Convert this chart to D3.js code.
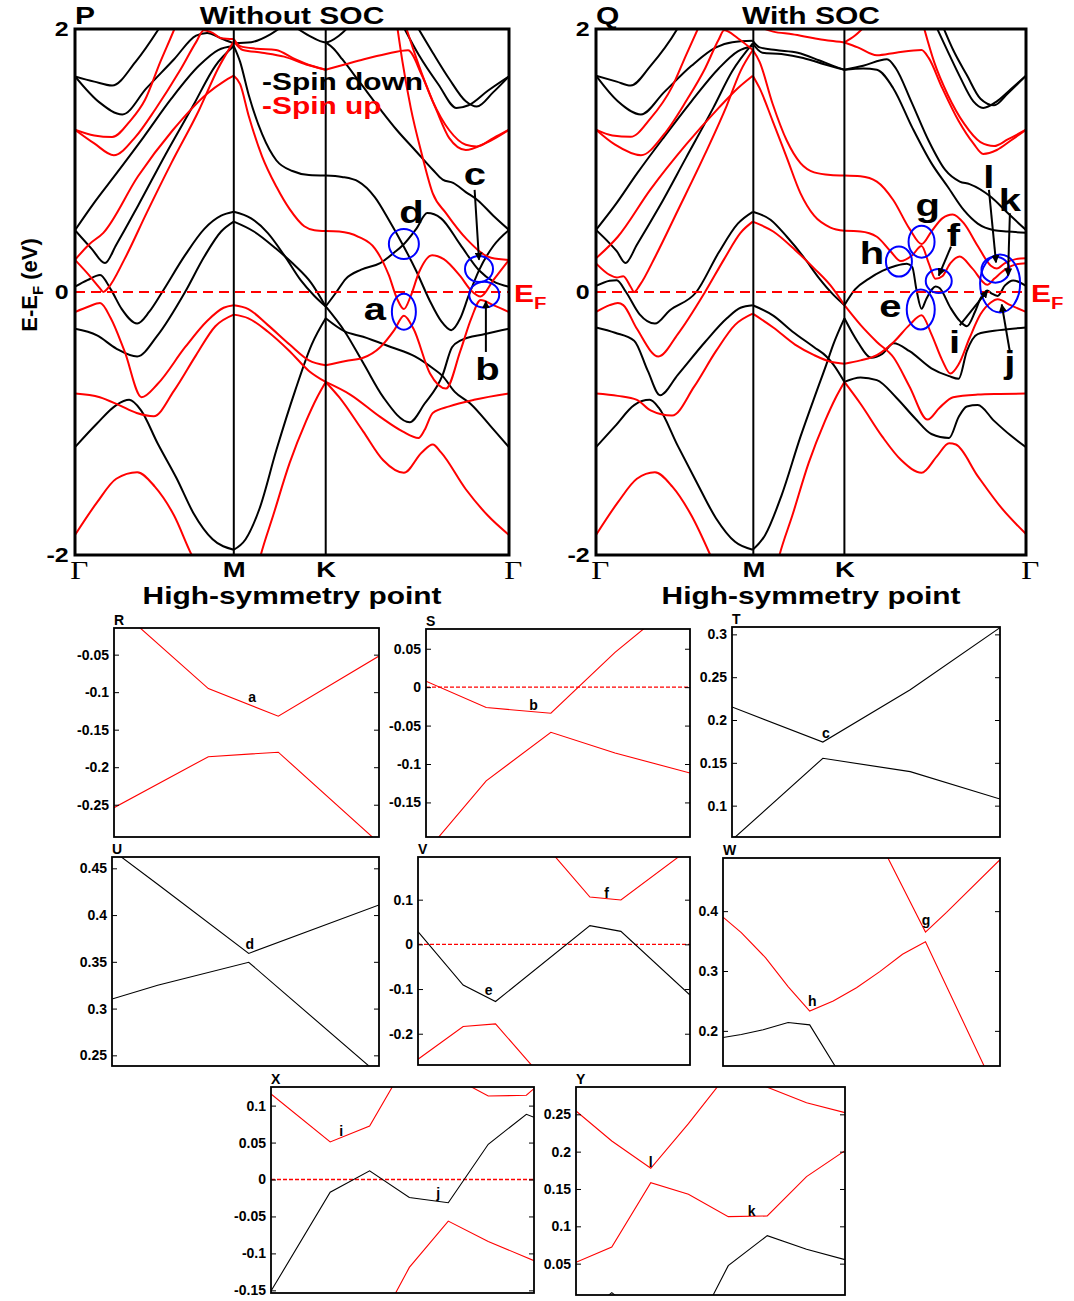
<!DOCTYPE html>
<html>
<head>
<meta charset="utf-8">
<script src="https://cdn.jsdelivr.net/npm/d3@7"></script>
<style>
  body { margin: 0; background: #fff; }
  svg { display: block; }
  text { font-family: "Liberation Sans", Arial, sans-serif; font-weight: bold; }
</style>
</head>
<body>
<svg id="fig" width="1074" height="1301"></svg>
<script>
// ---------- k-path and axis labels ----------
const kPath = [0, 0.577, 0.911, 1.577];
const kLabels = ["\u0393", "M", "K", "\u0393"];
const energyTicks = [-2, 0, 2];

// ---------- band structure without SOC: [k, E-EF] ----------
const noSocSpinDown = [
  [[0,1.64],[0.07,1.60],[0.135,1.57],[0.22,1.75],[0.304,2.0],[0.34,2.12]],
  [[0,1.64],[0.09,1.44],[0.172,1.35],[0.26,1.55],[0.36,1.77],[0.44,1.95],[0.48,1.97],[0.53,1.93],[0.577,1.89]],
  [[0,0.47],[0.06,0.33],[0.109,0.22],[0.15,0.36],[0.23,0.66],[0.33,1.05],[0.43,1.42],[0.51,1.72],[0.577,1.87]],
  [[0,0.47],[0.07,0.68],[0.15,0.90],[0.25,1.18],[0.35,1.47],[0.45,1.72],[0.52,1.84],[0.577,1.87]],
  [[0,0.04],[0.045,0.09],[0.091,0.13],[0.13,0.02],[0.17,-0.13],[0.226,-0.24],[0.27,-0.15],[0.317,0.0],[0.40,0.28],[0.47,0.48],[0.531,0.58],[0.577,0.61]],
  [[0,-0.28],[0.08,-0.33],[0.15,-0.43],[0.226,-0.49],[0.30,-0.33],[0.40,0.0],[0.47,0.27],[0.531,0.46],[0.577,0.535]],
  [[0,-1.18],[0.08,-1.0],[0.15,-0.86],[0.197,-0.82],[0.24,-0.90],[0.30,-1.15],[0.37,-1.42],[0.43,-1.68],[0.50,-1.88],[0.577,-1.96]],
  [[0.577,1.87],[0.60,1.75],[0.631,1.50],[0.68,1.20],[0.732,1.00],[0.79,0.92],[0.85,0.89],[0.911,0.886]],
  [[0.577,1.893],[0.64,1.90],[0.71,1.96],[0.76,2.03]],
  [[0.79,2.03],[0.85,1.95],[0.911,1.898],[0.96,1.95],[1.0,2.03]],
  [[0.577,0.61],[0.64,0.56],[0.70,0.45],[0.76,0.28],[0.82,0.09],[0.87,-0.03],[0.911,-0.11]],
  [[0.577,0.535],[0.65,0.46],[0.73,0.33],[0.80,0.20],[0.858,0.07],[0.911,-0.11]],
  [[0.577,-1.96],[0.62,-1.88],[0.67,-1.65],[0.732,-1.20],[0.80,-0.75],[0.86,-0.40],[0.911,-0.20]],
  [[0.911,1.898],[0.94,1.85],[0.971,1.77],[1.04,1.58],[1.109,1.39],[1.17,1.23],[1.235,1.08],[1.30,0.93],[1.336,0.855],[1.374,0.83],[1.42,0.76],[1.462,0.70],[1.52,0.58],[1.577,0.472]],
  [[1.19,2.03],[1.25,1.80],[1.32,1.58],[1.386,1.40],[1.43,1.42],[1.50,1.53],[1.577,1.64]],
  [[1.24,2.03],[1.30,1.82],[1.36,1.62],[1.42,1.45],[1.46,1.41],[1.52,1.52],[1.577,1.64]],
  [[0.911,0.886],[0.97,0.875],[1.03,0.84],[1.09,0.72],[1.14,0.55],[1.191,0.36],[1.24,0.16],[1.29,-0.07],[1.33,-0.22],[1.367,-0.29],[1.40,-0.20],[1.43,-0.03],[1.468,0.165],[1.52,0.35],[1.577,0.472]],
  [[0.911,-0.11],[0.95,0.0],[0.984,0.10],[1.04,0.17],[1.109,0.22],[1.16,0.30],[1.191,0.355],[1.24,0.48],[1.28,0.60],[1.33,0.56],[1.40,0.36],[1.468,0.165],[1.52,0.08],[1.577,0.04]],
  [[0.911,-0.11],[0.98,-0.30],[1.05,-0.55],[1.12,-0.80],[1.216,-0.99],[1.27,-0.85],[1.336,-0.63],[1.37,-0.42],[1.40,-0.37],[1.49,-0.32],[1.577,-0.28]],
  [[0.911,-0.20],[0.98,-0.30],[1.047,-0.34],[1.15,-0.42],[1.235,-0.49],[1.30,-0.58],[1.336,-0.64],[1.38,-0.76],[1.437,-0.85],[1.51,-1.02],[1.577,-1.18]]
];

const noSocSpinUp = [
  [[0,1.234],[0.07,1.19],[0.135,1.178],[0.20,1.30],[0.254,1.46],[0.31,1.75],[0.361,2.0],[0.38,2.1]],
  [[0,1.234],[0.07,1.13],[0.141,1.04],[0.22,1.18],[0.292,1.39],[0.38,1.68],[0.44,1.90],[0.468,1.99],[0.50,1.97],[0.531,1.93],[0.577,1.924]],
  [[0,0.244],[0.05,0.36],[0.103,0.45],[0.229,0.88],[0.355,1.23],[0.481,1.51],[0.54,1.60],[0.577,1.645]],
  [[0,0.244],[0.05,0.13],[0.09,0.03],[0.103,0.0],[0.12,0.03],[0.18,0.25],[0.26,0.60],[0.35,0.98],[0.45,1.38],[0.52,1.70],[0.577,1.906]],
  [[0,-0.152],[0.05,-0.11],[0.091,-0.084],[0.13,-0.20],[0.18,-0.45],[0.242,-0.80],[0.30,-0.70],[0.40,-0.42],[0.48,-0.22],[0.54,-0.12],[0.577,-0.101]],
  [[0,-0.772],[0.09,-0.80],[0.16,-0.86],[0.224,-0.92],[0.286,-0.944],[0.36,-0.75],[0.44,-0.48],[0.51,-0.26],[0.577,-0.172]],
  [[0,-1.848],[0.08,-1.60],[0.15,-1.42],[0.226,-1.37],[0.29,-1.48],[0.36,-1.70],[0.424,-2.0],[0.45,-2.1]],
  [[0.577,1.924],[0.60,1.87],[0.66,1.85],[0.73,1.84],[0.80,1.77],[0.86,1.72],[0.911,1.69]],
  [[0.577,1.906],[0.61,1.84],[0.68,1.82],[0.76,1.79],[0.84,1.73],[0.911,1.69]],
  [[0.577,1.645],[0.60,1.58],[0.631,1.34],[0.68,1.03],[0.732,0.80],[0.78,0.63],[0.833,0.50],[0.87,0.47],[0.911,0.464]],
  [[0.577,-0.101],[0.63,-0.13],[0.70,-0.25],[0.78,-0.40],[0.85,-0.52],[0.911,-0.557]],
  [[0.577,-0.172],[0.63,-0.20],[0.70,-0.30],[0.78,-0.45],[0.85,-0.60],[0.911,-0.684]],
  [[0.665,-2.08],[0.675,-2.0],[0.72,-1.70],[0.78,-1.30],[0.84,-0.98],[0.88,-0.80],[0.911,-0.684]],
  [[0.911,1.69],[0.98,1.73],[1.05,1.77],[1.13,1.81],[1.21,1.838],[1.26,1.65],[1.31,1.40],[1.36,1.17],[1.42,1.08],[1.49,1.13],[1.577,1.234]],
  [[1.20,2.03],[1.25,1.72],[1.30,1.45],[1.36,1.23],[1.42,1.12],[1.46,1.107],[1.52,1.17],[1.577,1.234]],
  [[0.911,0.464],[0.96,0.46],[1.03,0.42],[1.09,0.33],[1.14,0.13],[1.17,-0.05],[1.195,-0.13],[1.22,-0.03],[1.25,0.15],[1.298,0.28],[1.34,0.25],[1.40,0.12],[1.44,0.01],[1.474,-0.034],[1.52,0.09],[1.577,0.244]],
  [[1.17,2.03],[1.19,1.75],[1.22,1.40],[1.26,1.05],[1.30,0.75],[1.348,0.60],[1.424,0.40],[1.512,0.26],[1.577,0.244]],
  [[0.911,-0.557],[0.984,-0.524],[1.047,-0.50],[1.109,-0.42],[1.16,-0.29],[1.195,-0.18],[1.23,-0.28],[1.29,-0.62],[1.348,-0.734],[1.40,-0.45],[1.44,-0.20],[1.474,-0.06],[1.52,-0.10],[1.577,-0.152]],
  [[0.911,-0.684],[1.0,-0.78],[1.109,-0.95],[1.19,-1.06],[1.248,-1.11],[1.27,-1.05],[1.30,-0.92],[1.36,-0.87],[1.45,-0.82],[1.577,-0.772]],
  [[0.911,-0.684],[0.96,-0.80],[1.047,-1.06],[1.12,-1.28],[1.195,-1.375],[1.26,-1.22],[1.30,-1.16],[1.33,-1.22],[1.42,-1.50],[1.50,-1.70],[1.577,-1.848]]
];

// ---------- band structure with SOC ----------
const socBlack = [
  [[0,1.645],[0.076,1.60],[0.127,1.57],[0.20,1.72],[0.298,2.0],[0.32,2.08]],
  [[0,1.645],[0.08,1.45],[0.165,1.35],[0.25,1.52],[0.35,1.72],[0.44,1.86],[0.50,1.90],[0.575,1.91]],
  [[0,0.472],[0.07,0.66],[0.15,0.90],[0.25,1.18],[0.35,1.45],[0.45,1.70],[0.52,1.83],[0.575,1.87]],
  [[0,0.472],[0.05,0.37],[0.076,0.31],[0.108,0.22],[0.15,0.36],[0.23,0.64],[0.33,1.02],[0.43,1.40],[0.50,1.68],[0.575,1.89]],
  [[0,0.046],[0.05,0.085],[0.076,0.09],[0.11,0.0],[0.16,-0.17],[0.216,-0.24],[0.27,-0.14],[0.368,0.0],[0.45,0.30],[0.52,0.52],[0.575,0.61]],
  [[0,-0.27],[0.07,-0.31],[0.14,-0.37],[0.19,-0.60],[0.235,-0.785],[0.30,-0.63],[0.40,-0.38],[0.48,-0.20],[0.53,-0.12],[0.575,-0.101]],
  [[0,-1.18],[0.07,-1.02],[0.14,-0.86],[0.197,-0.82],[0.23,-0.88],[0.30,-1.17],[0.37,-1.45],[0.44,-1.72],[0.51,-1.90],[0.575,-1.96]],
  [[0.575,1.91],[0.60,1.86],[0.66,1.84],[0.74,1.82],[0.82,1.76],[0.87,1.72],[0.911,1.69]],
  [[0.575,1.89],[0.61,1.82],[0.68,1.81],[0.76,1.78],[0.84,1.73],[0.911,1.69]],
  [[0.575,0.61],[0.64,0.55],[0.70,0.42],[0.76,0.27],[0.82,0.10],[0.87,-0.02],[0.911,-0.10]],
  [[0.575,-0.101],[0.65,-0.18],[0.72,-0.30],[0.80,-0.42],[0.845,-0.49],[0.87,-0.55],[0.911,-0.684]],
  [[0.575,-1.96],[0.62,-1.85],[0.68,-1.55],[0.75,-1.10],[0.81,-0.75],[0.845,-0.55],[0.87,-0.40],[0.911,-0.20]],
  [[0.911,1.69],[0.98,1.72],[1.067,1.77],[1.10,1.70],[1.156,1.45],[1.22,1.15],[1.28,0.93],[1.334,0.84],[1.37,0.82],[1.45,0.72],[1.51,0.60],[1.577,0.472]],
  [[0.911,1.69],[0.98,1.70],[1.03,1.69],[1.09,1.55],[1.16,1.25],[1.23,0.98],[1.29,0.80],[1.35,0.62],[1.40,0.52],[1.46,0.47],[1.51,0.46],[1.577,0.45]],
  [[1.245,2.03],[1.29,1.83],[1.334,1.64],[1.384,1.45],[1.42,1.40],[1.47,1.45],[1.52,1.54],[1.577,1.645]],
  [[1.27,2.03],[1.31,1.84],[1.36,1.65],[1.41,1.47],[1.46,1.42],[1.51,1.51],[1.577,1.645]],
  [[0.911,-0.10],[0.95,0.02],[1.00,0.10],[1.05,0.16],[1.10,0.20],[1.14,0.215],[1.16,0.19],[1.175,0.02],[1.194,-0.128],[1.21,-0.06],[1.232,0.02],[1.245,0.042],[1.26,0.03],[1.30,-0.12],[1.334,-0.22],[1.36,-0.26],[1.39,-0.15],[1.41,-0.05],[1.435,0.012],[1.45,-0.01],[1.473,-0.03],[1.50,0.05],[1.53,0.088],[1.577,0.046]],
  [[0.911,-0.20],[0.96,-0.38],[1.01,-0.50],[1.05,-0.47],[1.092,-0.39],[1.15,-0.45],[1.23,-0.58],[1.295,-0.64],[1.33,-0.66],[1.36,-0.45],[1.40,-0.32],[1.48,-0.29],[1.577,-0.27]],
  [[0.911,-0.684],[0.97,-0.65],[1.03,-0.67],[1.10,-0.80],[1.17,-0.96],[1.23,-1.08],[1.295,-1.11],[1.33,-0.95],[1.36,-0.87],[1.40,-0.86],[1.46,-0.98],[1.52,-1.09],[1.577,-1.18]]
];

const socRed = [
  [[0,1.234],[0.06,1.19],[0.127,1.18],[0.20,1.32],[0.279,1.56],[0.33,1.80],[0.38,2.03]],
  [[0,1.234],[0.07,1.12],[0.165,1.04],[0.25,1.20],[0.33,1.45],[0.40,1.70],[0.45,1.92],[0.47,1.99],[0.52,1.93],[0.575,1.84]],
  [[0,0.256],[0.08,0.42],[0.20,0.78],[0.33,1.12],[0.45,1.40],[0.52,1.55],[0.575,1.645]],
  [[0,0.218],[0.05,0.13],[0.076,0.11],[0.10,0.12],[0.127,0.04],[0.14,0.0],[0.16,0.05],[0.22,0.28],[0.30,0.62],[0.40,1.05],[0.48,1.42],[0.53,1.68],[0.575,1.84]],
  [[0,-0.152],[0.05,-0.10],[0.08,-0.084],[0.10,-0.10],[0.15,-0.28],[0.229,-0.49],[0.30,-0.32],[0.40,0.0],[0.47,0.25],[0.53,0.45],[0.575,0.535]],
  [[0,-0.772],[0.08,-0.79],[0.15,-0.82],[0.20,-0.90],[0.279,-0.94],[0.36,-0.72],[0.44,-0.45],[0.51,-0.25],[0.575,-0.165]],
  [[0,-1.848],[0.08,-1.60],[0.15,-1.42],[0.216,-1.37],[0.28,-1.48],[0.35,-1.70],[0.419,-2.0],[0.44,-2.1]],
  [[0.575,1.84],[0.60,1.75],[0.648,1.43],[0.70,1.15],[0.75,0.98],[0.80,0.91],[0.86,0.89],[0.911,0.886]],
  [[0.575,1.645],[0.60,1.55],[0.648,1.30],[0.70,1.02],[0.75,0.75],[0.80,0.58],[0.86,0.49],[0.911,0.465]],
  [[0.58,2.03],[0.65,1.98],[0.72,1.96],[0.80,1.93],[0.86,1.91],[0.911,1.898]],
  [[0.911,1.898],[0.95,1.95],[0.99,2.03]],
  [[0.575,0.535],[0.65,0.46],[0.73,0.32],[0.80,0.18],[0.86,0.05],[0.911,-0.10]],
  [[0.575,-0.165],[0.65,-0.27],[0.73,-0.40],[0.80,-0.48],[0.86,-0.53],[0.911,-0.545]],
  [[0.663,-2.08],[0.673,-2.0],[0.72,-1.70],[0.78,-1.30],[0.84,-0.98],[0.88,-0.80],[0.911,-0.684]],
  [[0.911,1.898],[0.96,1.86],[1.03,1.80],[1.10,1.82],[1.194,1.84],[1.22,1.78],[1.27,1.55],[1.33,1.30],[1.384,1.13],[1.42,1.05],[1.47,1.08],[1.52,1.15],[1.577,1.234]],
  [[1.20,2.03],[1.24,1.75],[1.29,1.50],[1.35,1.28],[1.41,1.14],[1.46,1.11],[1.51,1.16],[1.577,1.234]],
  [[0.911,0.465],[0.97,0.46],[1.03,0.42],[1.08,0.31],[1.118,0.235],[1.16,0.28],[1.194,0.35],[1.22,0.22],[1.245,0.10],[1.27,0.12],[1.30,0.22],[1.334,0.27],[1.38,0.18],[1.435,0.055],[1.46,0.10],[1.50,0.17],[1.54,0.21],[1.577,0.218]],
  [[0.911,0.886],[0.97,0.88],[1.03,0.84],[1.09,0.70],[1.15,0.48],[1.194,0.365],[1.23,0.46],[1.27,0.56],[1.308,0.59],[1.35,0.52],[1.40,0.35],[1.448,0.20],[1.47,0.178],[1.50,0.22],[1.54,0.25],[1.577,0.256]],
  [[0.911,-0.545],[0.97,-0.52],[1.03,-0.48],[1.092,-0.38],[1.15,-0.25],[1.194,-0.177],[1.23,-0.32],[1.27,-0.52],[1.30,-0.62],[1.33,-0.55],[1.37,-0.35],[1.41,-0.17],[1.448,-0.08],[1.473,-0.056],[1.52,-0.10],[1.577,-0.152]],
  [[0.911,-0.10],[0.97,-0.25],[1.03,-0.38],[1.092,-0.50],[1.15,-0.72],[1.216,-0.97],[1.26,-0.88],[1.31,-0.80],[1.40,-0.78],[1.48,-0.775],[1.577,-0.772]],
  [[0.911,-0.684],[0.97,-0.85],[1.05,-1.10],[1.12,-1.28],[1.194,-1.375],[1.25,-1.25],[1.295,-1.15],[1.32,-1.16],[1.40,-1.40],[1.49,-1.65],[1.577,-1.84]]
];

// labelled crossing points [tag, k, E]
const noSocTags = [["a",1.09,-0.152],["b",1.499,-0.582],["c",1.453,0.878],["d",1.223,0.612]];
const socTags = [["e",1.08,-0.127],["f",1.311,0.434],["g",1.217,0.612],["h",1.012,0.30],
                 ["i",1.315,-0.38],["j",1.518,-0.58],["k",1.518,0.70],["l",1.441,0.878]];

// ---------- close-ups of the gaps: [fraction along segment, E-EF] ----------
const rRed = [[[0,0.0165],[0.356,-0.0953],[0.620,-0.132],[1,-0.0518]],
              [[0,-0.254],[0.356,-0.186],[0.620,-0.180],[1,-0.301]]];
const rRange = [-0.293,-0.0145];
const rTicks = [-0.25,-0.2,-0.15,-0.1,-0.05];

const sRed = [[[0,0.0078],[0.228,-0.0265],[0.473,-0.0339],[0.716,0.0452],[1,0.1254]],
              [[0,-0.2146],[0.228,-0.122],[0.473,-0.0587],[0.716,-0.0857],[1,-0.1117]]];
const sRange = [-0.195,0.0757];
const sTicks = [-0.15,-0.1,-0.05,0,0.05];

const tBlack = [[[0,0.2152],[0.339,0.1743],[0.665,0.2354],[1,0.3078]],
                [[0,0.060],[0.339,0.1553],[0.665,0.1397],[1,0.1078]]];
const tRange = [0.0634,0.3086];
const tTicks = [0.1,0.15,0.2,0.25,0.3];

const uBlack = [[[0,0.4696],[0.171,0.4329],[0.512,0.359],[1,0.4108]],
                [[0,0.3103],[0.171,0.3249],[0.512,0.3495],[1,0.2293]]];
const uRange = [0.2386,0.4621];
const uTicks = [0.25,0.3,0.35,0.4,0.45];

const vBlack = [[[0,0.0284],[0.166,-0.091],[0.285,-0.128],[0.632,0.0418],[0.746,0.0291],[1,-0.1134]]];
const vRed = [[[0,-0.257],[0.166,-0.184],[0.285,-0.178],[0.447,-0.291]],
              [[0.472,0.219],[0.632,0.106],[0.746,0.0993],[1,0.215]]];
const vRange = [-0.270,0.1955];
const vTicks = [-0.2,-0.1,0,0.1];

const wBlack = [[[0,0.189],[0.066,0.194],[0.145,0.202],[0.235,0.214],[0.313,0.210],[0.45,0.107]]];
const wRed = [[[0,0.390],[0.066,0.364],[0.154,0.322],[0.235,0.274],[0.313,0.233],[0.398,0.250],[0.482,0.272],[0.566,0.299],[0.648,0.328],[0.731,0.349],[1,0.085]],
              [[0.57,0.512],[0.731,0.365],[0.807,0.398],[1,0.486]]];
const wRange = [0.1413,0.4888];
const wTicks = [0.2,0.3,0.4];

const xBlack = [[[0,-0.151],[0.225,-0.0171],[0.375,0.0117],[0.526,-0.0243],[0.674,-0.0315],[0.826,0.0477],[0.971,0.0883],[1,0.0842]]];
const xRed = [[[0,0.1158],[0.225,0.0509],[0.375,0.0725],[0.49,0.143]],
              [[0.69,0.139],[0.826,0.113],[0.971,0.114],[1,0.123]],
              [[0.44,-0.176],[0.526,-0.119],[0.674,-0.0563],[0.826,-0.0838],[1,-0.1099]]];
const xRange = [-0.1536,0.1252];
const xTicks = [-0.15,-0.1,-0.05,0,0.05,0.1];

const yBlack = [[[0.08,-0.005],[0.133,0.0112],[0.19,-0.005]],
                [[0.47,-0.02],[0.566,0.0473],[0.711,0.0875],[0.857,0.0692],[1,0.0554]]];
const yRed = [[[0,0.2545],[0.133,0.2143],[0.278,0.1777],[0.418,0.2375],[0.55,0.298]],
              [[0.66,0.2936],[0.709,0.2866],[0.857,0.2656],[1,0.2522]],
              [[0,0.0518],[0.133,0.0723],[0.278,0.1585],[0.418,0.1429],[0.566,0.113],[0.711,0.1138],[0.857,0.1665],[1,0.2013]]];
const yRange = [0.008,0.2866];
const yTicks = [0.05,0.1,0.15,0.2,0.25];

// ---------- drawing ----------
const svg = d3.select("#fig");
const RED = "#ff0000", BLUE = "#0000ff";
const SX = 1.25; // horizontal stretch of the main-panel lettering
const plain = d => { const s = String(+d.toFixed(2)); return s === "-0" ? "0" : s; };

svg.append("defs").append("marker")
  .attr("id", "arrowHead").attr("viewBox", "0 0 10 10")
  .attr("refX", 9).attr("refY", 5)
  .attr("markerWidth", 4).attr("markerHeight", 4)
  .attr("orient", "auto")
  .append("path").attr("d", "M0,0 L10,5 L0,10 Z").attr("fill", "#000");

function putText(parent, x, y, str, o = {}) {
  const t = parent.append("text")
    .attr("transform", `translate(${x},${y}) scale(${o.sx ?? 1},1)`)
    .attr("font-size", o.size ?? 14)
    .attr("text-anchor", o.anchor ?? "start")
    .attr("fill", o.fill ?? "#000");
  if (o.family) t.style("font-family", o.family);
  if (o.weight) t.style("font-weight", o.weight);
  t.append("tspan").text(str);
  if (o.sub) {
    t.append("tspan").attr("font-size", o.size * 0.68).attr("dy", o.size * 0.28).text(o.sub);
    if (o.tail) t.append("tspan").attr("dy", -o.size * 0.28).text(o.tail);
  }
  return t;
}

function bandPanel(box, blackBands, redBands, cfg) {
  const x = d3.scaleLinear().domain([0, kPath[3]]).range([box.x0, box.x1]);
  const y = d3.scaleLinear().domain([-2, 2]).range([box.y1, box.y0]);
  const g = svg.append("g");
  g.append("clipPath").attr("id", cfg.clip).append("rect")
    .attr("x", box.x0).attr("y", box.y0)
    .attr("width", box.x1 - box.x0).attr("height", box.y1 - box.y0);
  const plot = g.append("g").attr("clip-path", `url(#${cfg.clip})`);
  const line = d3.line().x(d => x(d[0])).y(d => y(d[1])).curve(d3.curveMonotoneX);

  plot.selectAll(".dn").data(blackBands).join("path")
    .attr("d", line).attr("fill", "none").attr("stroke", "#000").attr("stroke-width", 2);
  plot.selectAll(".up").data(redBands).join("path")
    .attr("d", line).attr("fill", "none").attr("stroke", RED).attr("stroke-width", 2);

  // high-symmetry verticals
  g.selectAll(".sym").data(kPath.slice(1, 3)).join("line")
    .attr("x1", d => x(d)).attr("x2", d => x(d))
    .attr("y1", box.y0).attr("y2", box.y1)
    .attr("stroke", "#000").attr("stroke-width", 2);

  // Fermi level
  g.append("line")
    .attr("x1", box.x0).attr("x2", box.x1).attr("y1", y(0)).attr("y2", y(0))
    .attr("stroke", RED).attr("stroke-width", 2).attr("stroke-dasharray", "10,6");

  // rings around the crossings
  g.selectAll(".ring").data(cfg.rings).join("ellipse")
    .attr("cx", d => x(d[0])).attr("cy", d => y(d[1]))
    .attr("rx", d => d[2]).attr("ry", d => d[3])
    .attr("fill", "none").attr("stroke", BLUE).attr("stroke-width", 2);

  // pointer arrows
  g.selectAll(".arrow").data(cfg.arrows).join("line")
    .attr("x1", d => x(d[0])).attr("y1", d => y(d[1]))
    .attr("x2", d => x(d[2])).attr("y2", d => y(d[3]))
    .attr("stroke", "#000").attr("stroke-width", 2)
    .attr("marker-end", "url(#arrowHead)");

  // letter tags
  const lift = { a: 0.26, c: 0.26, e: 0.26, i: 0.36, b: 0.36, d: 0.36, f: 0.36, h: 0.36, k: 0.36, l: 0.36, g: 0.14, j: 0.14 };
  cfg.tags.forEach(([t, k, e]) => {
    putText(g, x(k), y(e) + lift[t] * 32, t, { size: 32, anchor: "middle", sx: SX });
  });

  // energy axis
  const ax = g.append("g").attr("transform", `translate(${box.x0},0)`)
    .call(d3.axisLeft(y).tickValues(energyTicks).tickSize(0).tickPadding(5).tickFormat(plain));
  ax.select(".domain").remove();
  ax.selectAll("text").attr("font-size", 20).attr("fill", "#000")
    .style("font-family", "'Liberation Sans', Arial, sans-serif").style("font-weight", "bold")
    .attr("transform", `scale(${SX},1)`);

  // k-path axis
  const kx = g.append("g").attr("transform", `translate(0,${box.y1})`)
    .call(d3.axisBottom(x).tickValues(kPath).tickSize(0).tickPadding(6).tickFormat((d, i) => kLabels[i]));
  kx.select(".domain").remove();
  const isGamma = (d, i) => i === 0 || i === 3;
  kx.selectAll("text").attr("fill", "#000").attr("dy", "0.72em")
    .attr("font-size", (d, i) => isGamma(d, i) ? 25 : 22)
    .style("font-family", (d, i) => isGamma(d, i) ? "'Liberation Serif', 'Times New Roman', serif" : "'Liberation Sans', Arial, sans-serif")
    .style("font-weight", (d, i) => isGamma(d, i) ? "normal" : "bold")
    .attr("x", (d, i) => isGamma(d, i) ? 3 : 0)
    .attr("transform", `scale(${SX},1)`);

  // frame
  g.append("rect")
    .attr("x", box.x0).attr("y", box.y0)
    .attr("width", box.x1 - box.x0).attr("height", box.y1 - box.y0)
    .attr("fill", "none").attr("stroke", "#000").attr("stroke-width", 3);

  // titles and E_F marker
  putText(g, box.x0, 24, cfg.letter, { size: 24, sx: SX });
  putText(g, (box.x0 + box.x1) / 2, 24, cfg.title, { size: 24, anchor: "middle", sx: SX });
  putText(g, (box.x0 + box.x1) / 2, 604, "High-symmetry point", { size: 23, anchor: "middle", sx: 1.3 });
  putText(g, box.x1 + 5, y(0) + 10, "E", { size: 24, fill: RED, sx: SX, sub: "F" });
  return { x, y, g };
}

const pBox = { x0: 75, x1: 509, y0: 29, y1: 555 };
const qBox = { x0: 596, x1: 1026, y0: 29, y1: 555 };

const P = bandPanel(pBox, noSocSpinDown, noSocSpinUp, {
  clip: "clipP", letter: "P", title: "Without SOC", tags: noSocTags,
  rings: [[1.195, 0.365, 15, 15], [1.468, 0.175, 14, 13], [1.195, -0.15, 12, 18], [1.487, -0.02, 15, 13]],
  arrows: [[1.452, 0.777, 1.468, 0.245], [1.493, -0.456, 1.493, -0.07]]
});
const Q = bandPanel(qBox, socBlack, socRed, {
  clip: "clipQ", letter: "Q", title: "With SOC", tags: socTags,
  rings: [[1.111, 0.231, 13, 15], [1.194, 0.383, 13, 16], [1.257, 0.084, 13, 12], [1.191, -0.133, 14, 20],
          [1.482, 0.065, 20, 29], [1.465, 0.17, 14, 13]],
  arrows: [[1.302, 0.345, 1.257, 0.125], [1.441, 0.777, 1.467, 0.225], [1.518, 0.599, 1.511, 0.125],
           [1.334, -0.253, 1.436, 0.01], [1.518, -0.456, 1.488, -0.095]]
});

// spin legend
putText(P.g, 262, 90, "-Spin down", { size: 23, sx: 1.3 });
putText(P.g, 262, 114, "-Spin up", { size: 23, sx: 1.3, fill: RED });

// energy axis title
svg.append("text")
  .attr("transform", "translate(37,285) rotate(-90)")
  .attr("font-size", 22).attr("text-anchor", "middle")
  .call(t => {
    t.append("tspan").text("E-E");
    t.append("tspan").attr("font-size", 15).attr("dy", 6).text("F");
    t.append("tspan").attr("dy", -6).text(" (eV)");
  });

// ---------- close-up panels ----------
function closeUp(box, blackSet, redSet, range, ticks, tags, fermi) {
  const x = d3.scaleLinear().domain([0, 1]).range([box.x0, box.x1]);
  const y = d3.scaleLinear().domain(range).range([box.y1, box.y0]);
  const g = svg.append("g");
  const cid = "clip" + box.tag;
  g.append("clipPath").attr("id", cid).append("rect")
    .attr("x", box.x0).attr("y", box.y0)
    .attr("width", box.x1 - box.x0).attr("height", box.y1 - box.y0);
  const plot = g.append("g").attr("clip-path", `url(#${cid})`);
  const line = d3.line().x(d => x(d[0])).y(d => y(d[1]));
  if (fermi) {
    plot.append("line").attr("x1", box.x0).attr("x2", box.x1)
      .attr("y1", y(0)).attr("y2", y(0))
      .attr("stroke", RED).attr("stroke-width", 1.3).attr("stroke-dasharray", "4,2");
  }
  plot.selectAll(".bk").data(blackSet).join("path")
    .attr("d", line).attr("fill", "none").attr("stroke", "#000").attr("stroke-width", 1.1);
  plot.selectAll(".rd").data(redSet).join("path")
    .attr("d", line).attr("fill", "none").attr("stroke", RED).attr("stroke-width", 1.1);

  const left = g.append("g").attr("transform", `translate(${box.x0},0)`)
    .call(d3.axisLeft(y).tickValues(ticks).tickSize(-5).tickPadding(5).tickFormat(plain));
  left.select(".domain").remove();
  left.selectAll("line").attr("stroke", "#000").attr("stroke-width", 1);
  left.selectAll("text").attr("font-size", 14).attr("fill", "#000")
    .style("font-family", "'Liberation Sans', Arial, sans-serif").style("font-weight", "bold");
  const right = g.append("g").attr("transform", `translate(${box.x1},0)`)
    .call(d3.axisRight(y).tickValues(ticks).tickSize(-5).tickFormat(""));
  right.select(".domain").remove();
  right.selectAll("line").attr("stroke", "#000").attr("stroke-width", 1);

  g.append("rect").attr("x", box.x0).attr("y", box.y0)
    .attr("width", box.x1 - box.x0).attr("height", box.y1 - box.y0)
    .attr("fill", "none").attr("stroke", "#000").attr("stroke-width", 1.8);

  putText(g, box.x0, box.y0 - 3, box.tag, { size: 14 });
  tags.forEach(([t, k, e]) => putText(g, x(k), y(e) + 5, t, { size: 14, anchor: "middle" }));
}

closeUp({ tag: "R", x0: 114, x1: 379, y0: 628, y1: 837 }, [], rRed, rRange, rTicks, [["a", 0.521, -0.107]], false);
closeUp({ tag: "S", x0: 426, x1: 690, y0: 629, y1: 837 }, [], sRed, sRange, sTicks, [["b", 0.407, -0.0235]], true);
closeUp({ tag: "T", x0: 732, x1: 1000, y0: 627, y1: 837 }, tBlack, [], tRange, tTicks, [["c", 0.35, 0.185]], false);
closeUp({ tag: "U", x0: 112, x1: 379, y0: 857, y1: 1066 }, uBlack, [], uRange, uTicks, [["d", 0.516, 0.3687]], false);
closeUp({ tag: "V", x0: 418, x1: 690, y0: 857, y1: 1065 }, vBlack, vRed, vRange, vTicks, [["e", 0.26, -0.102], ["f", 0.693, 0.116]], true);
closeUp({ tag: "W", x0: 723, x1: 1000, y0: 858, y1: 1066 }, wBlack, wRed, wRange, wTicks, [["h", 0.322, 0.250], ["g", 0.733, 0.386]], false);
closeUp({ tag: "X", x0: 271, x1: 534, y0: 1087, y1: 1293 }, xBlack, xRed, xRange, xTicks, [["i", 0.267, 0.066], ["j", 0.636, -0.018]], true);
closeUp({ tag: "Y", x0: 576, x1: 845, y0: 1087, y1: 1295 }, yBlack, yRed, yRange, yTicks, [["l", 0.278, 0.186], ["k", 0.653, 0.121]], false);
</script>
</body>
</html>
